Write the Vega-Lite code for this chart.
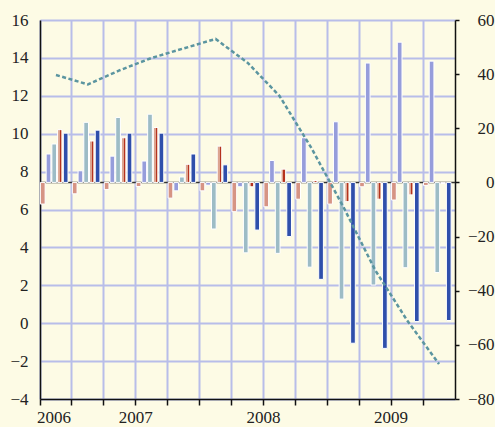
{
  "$schema": "https://vega.github.io/schema/vega-lite/v6.json",
  "width": 415,
  "height": 379,
  "autosize": "none",
  "padding": {"left": 40, "top": 20, "right": 40, "bottom": 28},
  "background": "#fdfbe5",
  "config": {
    "view": {"stroke": null},
    "axis": {"labelFont": "Liberation Serif", "labelFontSize": 17, "labelColor": "#222222", "domainColor": "#111111", "tickColor": "#111111", "domainWidth": 1.5, "tickWidth": 1.5}
  },
  "datasets": {
    "bars": [
      {"q": "2006Q2", "s": "a", "v": -8.0}, {"q": "2006Q2", "s": "b", "v": 10.5}, {"q": "2006Q2", "s": "c", "v": 14.2}, {"q": "2006Q2", "s": "d", "v": 19.5}, {"q": "2006Q2", "s": "e", "v": 18.2},
      {"q": "2006Q3", "s": "a", "v": -4.2}, {"q": "2006Q3", "s": "b", "v": 4.3}, {"q": "2006Q3", "s": "c", "v": 22.2}, {"q": "2006Q3", "s": "d", "v": 15.3}, {"q": "2006Q3", "s": "e", "v": 19.3},
      {"q": "2006Q4", "s": "a", "v": -2.6}, {"q": "2006Q4", "s": "b", "v": 9.7}, {"q": "2006Q4", "s": "c", "v": 24.0}, {"q": "2006Q4", "s": "d", "v": 16.5}, {"q": "2006Q4", "s": "e", "v": 18.2},
      {"q": "2007Q1", "s": "a", "v": -1.5}, {"q": "2007Q1", "s": "b", "v": 7.9}, {"q": "2007Q1", "s": "c", "v": 25.2}, {"q": "2007Q1", "s": "d", "v": 20.3}, {"q": "2007Q1", "s": "e", "v": 18.2},
      {"q": "2007Q2", "s": "a", "v": -5.8}, {"q": "2007Q2", "s": "b", "v": -3.1}, {"q": "2007Q2", "s": "c", "v": 2.0}, {"q": "2007Q2", "s": "d", "v": 6.7}, {"q": "2007Q2", "s": "e", "v": 10.5},
      {"q": "2007Q3", "s": "a", "v": -3.1}, {"q": "2007Q3", "s": "b", "v": -1.0}, {"q": "2007Q3", "s": "c", "v": -17.2}, {"q": "2007Q3", "s": "d", "v": 13.4}, {"q": "2007Q3", "s": "e", "v": 6.5},
      {"q": "2007Q4", "s": "a", "v": -10.8}, {"q": "2007Q4", "s": "b", "v": -1.6}, {"q": "2007Q4", "s": "c", "v": -26.0}, {"q": "2007Q4", "s": "d", "v": -1.6}, {"q": "2007Q4", "s": "e", "v": -17.6},
      {"q": "2008Q1", "s": "a", "v": -9.0}, {"q": "2008Q1", "s": "b", "v": 8.1}, {"q": "2008Q1", "s": "c", "v": -26.2}, {"q": "2008Q1", "s": "d", "v": 4.9}, {"q": "2008Q1", "s": "e", "v": -20.0},
      {"q": "2008Q2", "s": "a", "v": -6.2}, {"q": "2008Q2", "s": "b", "v": 16.5}, {"q": "2008Q2", "s": "c", "v": -31.3}, {"q": "2008Q2", "s": "d", "v": 0.7}, {"q": "2008Q2", "s": "e", "v": -35.8},
      {"q": "2008Q3", "s": "a", "v": -8.0}, {"q": "2008Q3", "s": "b", "v": 22.4}, {"q": "2008Q3", "s": "c", "v": -43.1}, {"q": "2008Q3", "s": "d", "v": -7.1}, {"q": "2008Q3", "s": "e", "v": -59.4},
      {"q": "2008Q4", "s": "a", "v": -1.6}, {"q": "2008Q4", "s": "b", "v": 44.1}, {"q": "2008Q4", "s": "c", "v": -37.9}, {"q": "2008Q4", "s": "d", "v": -6.2}, {"q": "2008Q4", "s": "e", "v": -61.3},
      {"q": "2009Q1", "s": "a", "v": -6.5}, {"q": "2009Q1", "s": "b", "v": 51.8}, {"q": "2009Q1", "s": "c", "v": -31.5}, {"q": "2009Q1", "s": "d", "v": -4.6}, {"q": "2009Q1", "s": "e", "v": -51.4},
      {"q": "2009Q2", "s": "a", "v": -1.1}, {"q": "2009Q2", "s": "b", "v": 44.8}, {"q": "2009Q2", "s": "c", "v": -33.3}, {"q": "2009Q2", "s": "d", "v": -0.4}, {"q": "2009Q2", "s": "e", "v": -51.0}
    ],
    "line": [
      {"q": "2006Q2", "v": 13.1}, {"q": "2006Q3", "v": 12.6}, {"q": "2006Q4", "v": 13.35}, {"q": "2007Q1", "v": 14.0},
      {"q": "2007Q2", "v": 14.5}, {"q": "2007Q3", "v": 15.0}, {"q": "2007Q4", "v": 13.75}, {"q": "2008Q1", "v": 12.0},
      {"q": "2008Q2", "v": 9.25}, {"q": "2008Q3", "v": 6.15}, {"q": "2008Q4", "v": 2.8}, {"q": "2009Q1", "v": 0.15},
      {"q": "2009Q2", "v": -2.15}
    ]
  },
  "layer": [
    {
      "layer": [
        {
          "data": {"values": [{"z": 0}]},
          "mark": {"type": "rule", "color": "#333333", "strokeWidth": 1.5},
          "encoding": {
            "y": {"field": "z", "type": "quantitative", "scale": {"domain": [-80, 60], "nice": false},
                  "axis": {"orient": "right", "values": [-80, -60, -40, -20, 0, 20, 40, 60], "grid": false, "tickSize": 4, "labelPadding": 35, "labelAlign": "right", "title": null}}
          }
        },
        {
          "data": {"name": "bars"},
          "transform": [{"filter": "datum.s !== 'd'"}],
          "mark": {"type": "bar", "stroke": "white", "strokeWidth": 1},
          "encoding": {
            "x": {"field": "q", "type": "ordinal", "sort": null,
                  "scale": {"domain": ["2006Q2", "2006Q3", "2006Q4", "2007Q1", "2007Q2", "2007Q3", "2007Q4", "2008Q1", "2008Q2", "2008Q3", "2008Q4", "2009Q1", "2009Q2"], "paddingInner": 0, "paddingOuter": 0},
                  "axis": {"bandPosition": 0, "grid": true, "gridColor": "#b8bde9", "gridWidth": 2, "tickSize": 6, "labelAngle": 0, "labelPadding": 4, "labelBaseline": "top", "labelOverlap": false,
                           "labelExpr": "datum.value === '2006Q2' ? '2006' : (indexof(datum.value, 'Q1') > 0 ? slice(datum.value, 0, 4) : '')",
                           "labelOffset": {"condition": {"test": "datum.value === '2006Q2'", "value": -2}, "value": -16},
                           "title": null}},
            "xOffset": {"field": "s", "type": "nominal", "scale": {"domain": ["a", "b", "c", "d", "e"], "paddingInner": 0.18, "paddingOuter": 0.38, "align": 0.1}},
            "y": {"field": "v", "type": "quantitative", "scale": {"domain": [-80, 60], "nice": false},
                  "axis": {"orient": "right", "values": [-80, -60, -40, -20, 0, 20, 40, 60], "grid": false, "tickSize": 4, "labelPadding": 35, "labelAlign": "right", "title": null}},
            "color": {"field": "s", "type": "nominal", "legend": null,
                      "scale": {"domain": ["a", "b", "c", "e"], "range": ["#d69484", "#969ddb", "#9dbcc6", "#2f4fab"]}}
          }
        },
        {
          "data": {"name": "bars"},
          "transform": [{"filter": "datum.s === 'd'"}],
          "mark": {"type": "bar", "stroke": "white", "strokeWidth": 1,
                   "color": {"gradient": "linear", "x1": 0, "y1": 0, "x2": 1, "y2": 0,
                             "stops": [{"offset": 0, "color": "#dca590"}, {"offset": 0.5, "color": "#dca590"}, {"offset": 0.5, "color": "#b5321e"}, {"offset": 0.74, "color": "#b5321e"}, {"offset": 0.74, "color": "#dca590"}, {"offset": 1, "color": "#dca590"}]}},
          "encoding": {
            "x": {"field": "q", "type": "ordinal", "sort": null,
                  "scale": {"domain": ["2006Q2", "2006Q3", "2006Q4", "2007Q1", "2007Q2", "2007Q3", "2007Q4", "2008Q1", "2008Q2", "2008Q3", "2008Q4", "2009Q1", "2009Q2"], "paddingInner": 0, "paddingOuter": 0}},
            "xOffset": {"field": "s", "type": "nominal", "scale": {"domain": ["a", "b", "c", "d", "e"], "paddingInner": 0.18, "paddingOuter": 0.38, "align": 0.1}},
            "y": {"field": "v", "type": "quantitative", "scale": {"domain": [-80, 60], "nice": false},
                  "axis": {"orient": "right", "values": [-80, -60, -40, -20, 0, 20, 40, 60], "grid": false, "tickSize": 4, "labelPadding": 35, "labelAlign": "right", "title": null}}
          }
        }
      ]
    },
    {
      "data": {"name": "line"},
      "mark": {"type": "line", "color": "#5b95a0", "strokeWidth": 2.5, "strokeDash": [4, 2.5], "interpolate": "linear"},
      "encoding": {
        "x": {"field": "q", "type": "ordinal", "sort": null,
              "scale": {"domain": ["2006Q2", "2006Q3", "2006Q4", "2007Q1", "2007Q2", "2007Q3", "2007Q4", "2008Q1", "2008Q2", "2008Q3", "2008Q4", "2009Q1", "2009Q2"], "paddingInner": 0, "paddingOuter": 0}},
        "y": {"field": "v", "type": "quantitative", "scale": {"domain": [-4, 16], "nice": false},
              "axis": {"orient": "left", "values": [-4, -2, 0, 2, 4, 6, 8, 10, 12, 14, 16], "grid": true, "gridColor": "#b8bde9", "gridWidth": 2, "ticks": false, "labelPadding": 12, "title": null}}
      }
    }
  ],
  "resolve": {"scale": {"y": "independent"}}
}
